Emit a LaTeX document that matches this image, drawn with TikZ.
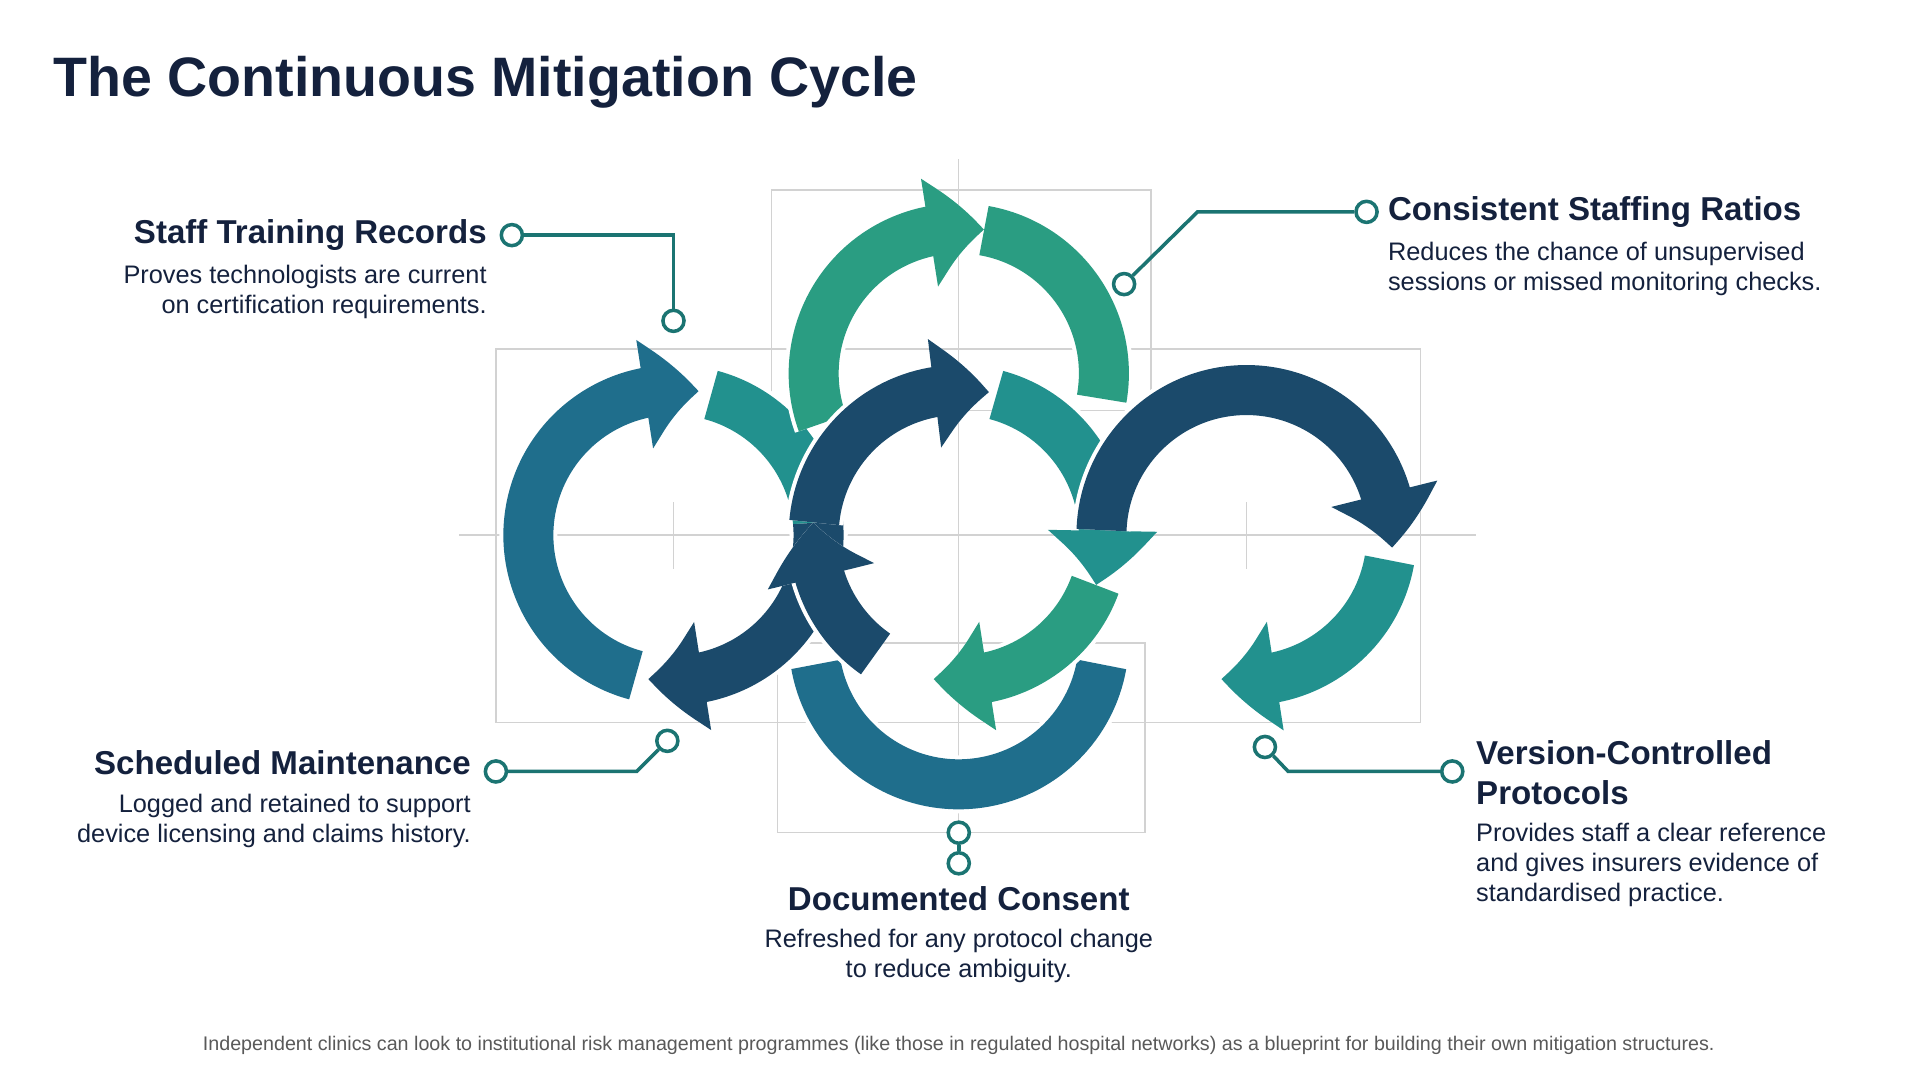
\documentclass[tikz,border=0pt]{standalone}
\usepackage{fontspec}
\setmainfont{Liberation Sans}
\usepackage{tikz}
\usetikzlibrary{arrows.meta}
\usetikzlibrary{bending}
\definecolor{cblue}{HTML}{1F6E8C}
\definecolor{cnavy}{HTML}{1B4A6B}
\definecolor{cteal}{HTML}{22918E}
\definecolor{cgreen}{HTML}{2A9D82}
\definecolor{ctext}{HTML}{14213D}
\tikzset{
  band/.style = {line width = 0.5cm},
  tip/.style = {-{Triangle[width = 1.05cm, length = 0.55cm, bend]}},
  guide/.style = {draw = gray!35, line width = 0.4pt},
  lead/.style = {draw = cteal!80!black, line width = 1pt},
  dot/.style = {circle, draw = cteal!80!black, fill = white, line width = 1pt, inner sep = 0pt, minimum size = 6pt},
  head/.style = {font = \fontsize{9.4}{11.5}\selectfont\bfseries, text = ctext, inner sep = 0pt},
  body/.style = {font = \fontsize{7.2}{8.5}\selectfont, text = ctext, inner sep = 0pt}
}
\begin{document}
\begin{tikzpicture}[x = 0.012245cm, y = 0.012245cm]
    \fill [white] (0, -876) rectangle (1568, 0);
    \node [font = \fontsize{15.8}{18}\selectfont\bfseries, text = ctext, anchor = west, inner sep = 0pt] (title) at (43, -67) {The Continuous Mitigation Cycle};
    % guides
    \draw [guide] (375, -437) -- (1205, -437);
    \draw [guide] (783, -130) -- (783, -690);
    \draw [guide] (405, -285) rectangle (1160, -590);
    \draw [guide] (630, -155) rectangle (940, -335);
    \draw [guide] (635, -525) rectangle (935, -680);
    \draw [guide] (550, -410) -- (550, -465) (1018, -410) -- (1018, -465);
    % rings
    \coordinate (L) at (550, -437);
    \coordinate (C) at (783, -437);
    \coordinate (R) at (1018, -437);
    \coordinate (T) at (783, -305);
    \coordinate (B) at (783, -522);
    \foreach \c\a\b\col in {B/190/350/cblue, T/80/-10/cgreen, L/75/0/cteal} {
        \draw [band, white, line width = 0.58cm] (\c) ++(\a:1.45cm) arc [start angle = \a, end angle = \b, radius = 1.45cm];
        \draw [band, \col] (\c) ++(\a:1.45cm) arc [start angle = \a, end angle = \b, radius = 1.45cm];
    }
    \foreach \c\a\b\col in {T/200/80/cgreen, L/255/80/cblue, L/5/-100/cnavy, C/235/175/cnavy, C/175/78/cnavy, C/75/-20/cteal, C/-20/-100/cgreen, R/178/-5/cnavy, R/-10/-100/cteal} {
        \draw [band, tip, white, line width = 0.58cm] (\c) ++(\a:1.45cm) arc [start angle = \a, end angle = \b, radius = 1.45cm];
        \draw [band, tip, \col] (\c) ++(\a:1.45cm) arc [start angle = \a, end angle = \b, radius = 1.45cm];
    }
    % callouts
    \node [dot] (d1a) at (418, -192) {};
    \node [dot] (d1b) at (550, -262) {};
    \draw [lead] (d1a) -- (550, -192) -- (d1b);
    \node [head, anchor = east] (h1) at (398, -192) {Staff Training Records};
    \node [body, anchor = north east, align = right] (b1) at (398, -216) {Proves technologists are current\\on certification requirements.};
    \node [dot] (d2a) at (1116, -173) {};
    \node [dot] (d2b) at (918, -232) {};
    \draw [lead] (d2a) -- (978, -173) -- (d2b);
    \node [head, anchor = west] (h2) at (1133, -173) {Consistent Staffing Ratios};
    \node [body, anchor = north west, align = left] (b2) at (1133, -197) {Reduces the chance of unsupervised\\sessions or missed monitoring checks.};
    \node [dot] (d3a) at (405, -630) {};
    \node [dot] (d3b) at (545, -605) {};
    \draw [lead] (d3a) -- (520, -630) -- (d3b);
    \node [head, anchor = east] (h3) at (385, -623) {Scheduled Maintenance};
    \node [body, anchor = north east, align = right] (b3) at (385, -648) {Logged and retained to support\\device licensing and claims history.};
    \node [dot] (d4a) at (1033, -610) {};
    \node [dot] (d4b) at (1186, -630) {};
    \draw [lead] (d4a) -- (1052, -630) -- (d4b);
    \node [head, anchor = north west, align = left] (h4) at (1205, -604) {Version-Controlled\\Protocols};
    \node [body, anchor = north west, align = left] (b4) at (1205, -672) {Provides staff a clear reference\\and gives insurers evidence of\\standardised practice.};
    \node [dot] (d5a) at (783, -680) {};
    \node [dot] (d5b) at (783, -705) {};
    \draw [lead] (d5a) -- (d5b);
    \node [head] (h5) at (783, -734) {Documented Consent};
    \node [body, anchor = north, align = center] (b5) at (783, -758) {Refreshed for any protocol change\\to reduce ambiguity.};
    \node [font = \fontsize{5.6}{7}\selectfont, text = gray!70!black, inner sep = 0pt] (foot) at (783, -854) {Independent clinics can look to institutional risk management programmes (like those in regulated hospital networks) as a blueprint for building their own mitigation structures.};
\end{tikzpicture}
\end{document}
